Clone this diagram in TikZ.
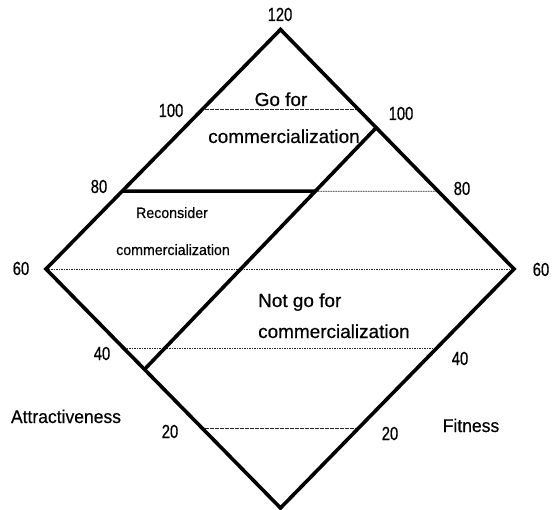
\documentclass[tikz,border=0pt]{standalone}
\usepackage{fontspec}
\usetikzlibrary{calc}
\setmainfont{Liberation Sans}
\newfontfamily\numf[FakeStretch=0.78,FakeBold=0.6]{Liberation Sans}
\newfontfamily\txtf[FakeBold=0.5]{Liberation Sans}
\newfontfamily\smf[FakeStretch=0.95,FakeBold=0.5]{Liberation Sans}
\begin{document}
\begin{tikzpicture}[x=1bp,y=-1bp,
  edge/.style={line width=3.6bp, line join=miter},
  dotl/.style={line width=0.7bp, dash pattern=on 1.6bp off 0.9bp, black!85},
  num/.style={font=\numf\fontsize{19}{19}\selectfont, inner sep=0pt, anchor=base},
  big/.style={font=\txtf\fontsize{19}{19}\selectfont, inner sep=0pt, anchor=base},
  mid/.style={font=\txtf\fontsize{19}{19}\selectfont, inner sep=0pt, anchor=base west},
  axis/.style={font=\smf\fontsize{18.5}{18.5}\selectfont, inner sep=0pt, anchor=base},
  small/.style={font=\smf\fontsize{15}{15}\selectfont, inner sep=0pt, anchor=base}]
\useasboundingbox (0,0) rectangle (559,510);
% diamond vertices
\coordinate (T) at (280.5,29.5);
\coordinate (R) at (514,269);
\coordinate (B) at (280.5,508);
\coordinate (L) at (46,269);
% level points
\coordinate (L100) at ($(L)!0.667!(T)$);
\coordinate (R100) at ($(R)!0.667!(T)$);
\coordinate (L80) at ($(L)!0.325!(T)$);
\coordinate (R80) at ($(R)!0.325!(T)$);
\coordinate (L40) at ($(L)!0.333!(B)$);
\coordinate (R40) at ($(R)!0.333!(B)$);
\coordinate (L20) at ($(L)!0.667!(B)$);
\coordinate (R20) at ($(R)!0.667!(B)$);
% inner boundary
\coordinate (IU) at ($(R)!0.59!(T)$);
\coordinate (ID) at ($(L)!0.42!(B)$);
\coordinate (I80) at (intersection of IU--ID and L80--R80);
% dotted levels
\draw[dotl] (L100) -- (R100);
\draw[dotl] (I80) -- (R80);
\draw[dotl] (L) -- (R);
\draw[dotl] (L40) -- (R40);
\draw[dotl] (L20) -- (R20);
% thick lines
\draw[edge] (T) -- (R) -- (B) -- (L) -- cycle;
\draw[edge] (IU) -- (ID);
\draw[edge, line cap=butt] (L80) -- (I80);
% scale labels
\node[num] (n120) at (280,21) {120};
\node[num] (nl100) at (171,117) {100};
\node[num] (nr100) at (401,120) {100};
\node[num] (nl80) at (99,193) {80};
\node[num] (nr80) at (462,195) {80};
\node[num] (nl60) at (21,275) {60};
\node[num] (nr60) at (541,276) {60};
\node[num] (nl40) at (102,360) {40};
\node[num] (nr40) at (460,365) {40};
\node[num] (nl20) at (170,438) {20};
\node[num] (nr20) at (390,440) {20};
% axis names
\node[axis] (att) at (66,423) {Attractiveness};
\node[axis] (fit) at (471,432) {Fitness};
% region texts
\node[big] (go1) at (281,106) {Go for};
\node[big] (go2) at (284,143) {commercialization};
\node[small] (re1) at (172,218) {Reconsider};
\node[small] (re2) at (173,255) {commercialization};
\node[mid] (no1) at (258,307) {Not go for};
\node[mid] (no2) at (258,338) {commercialization};
\end{tikzpicture}
\end{document}
